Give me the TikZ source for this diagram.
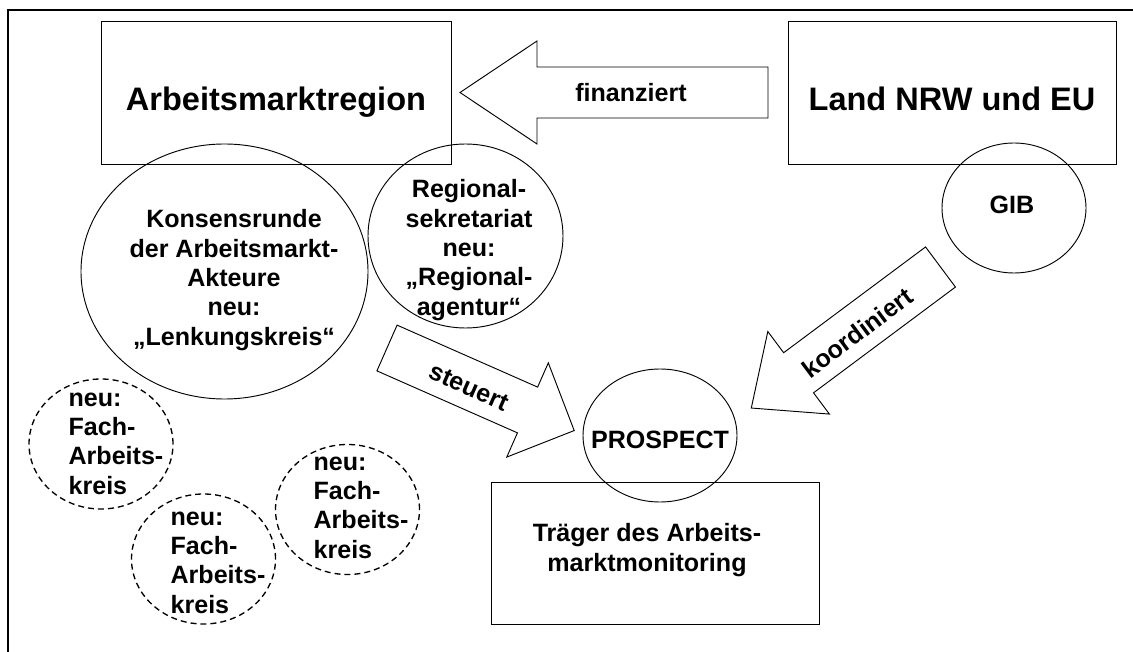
\documentclass[tikz,border=0pt]{standalone}
\usepackage{fontspec}
\setmainfont{Liberation Sans}
\usetikzlibrary{shapes.geometric}

\begin{document}
\begin{tikzpicture}[
    x=0.75pt, y=-0.75pt,
    frameline/.style={
        line width=1.5pt,
    },
    box/.style={
        rectangle,
        draw,
        line width=0.7pt,
        inner sep=0pt,
    },
    bigtext/.style={
        font=\fontsize{24.4}{29}\selectfont\bfseries,
        text height=27pt,
        text depth=0pt,
    },
    txt/.style={
        font=\fontsize{18.8}{22}\selectfont\bfseries,
        align=center,
        inner sep=0pt,
    },
    oval/.style={
        ellipse,
        draw,
        line width=0.7pt,
        inner sep=0pt,
    },
    fach/.style={
        oval,
        dash pattern=on 4.5pt off 3pt,
        line width=1pt,
        minimum width=108pt,
        minimum height=97.5pt,
    },
    blockarrow/.style={
        draw,
        line width=0.7pt,
        line join=miter,
    }
]
    \useasboundingbox (0,0) rectangle (1133,652);

    % Frame
    \draw[frameline] (8,652) -- (8,10) -- (1133,10);

    % Boxes
    \node[box, bigtext, minimum width=262.5pt, minimum height=107.25pt] (region) at (276,92.5) {Arbeitsmarktregion};
    \node[box, bigtext, minimum width=246pt, minimum height=107.25pt] (land) at (952,92.5) {Land NRW und EU};
    \node[box, minimum width=246pt, minimum height=106.5pt] (traeger) at (655,553) {};
    \node[txt] (traegertext) at (647,550) {Tr\"ager des Arbeits-\\marktmonitoring};

    % Ovals
    \node[oval, minimum width=215.25pt, minimum height=191.25pt] (konsens) at (224.5,271.5) {};
    \node[txt] (konsenstext) at (234,280) {Konsensrunde\\der Arbeitsmarkt-\\Akteure\\neu:\\„Lenkungskreis“};
    \node[oval, minimum width=146.25pt, minimum height=138pt] (regional) at (465.5,236) {};
    \node[txt] (regionaltext) at (469,250) {Regional-\\sekretariat\\neu:\\„Regional-\\agentur“};
    \node[oval, minimum width=108pt, minimum height=97.5pt] (gib) at (1014,208) {};
    \node[txt] (gibtext) at (1012,205) {GIB};
    \node[oval, minimum width=115.5pt, minimum height=99.75pt] (prospect) at (660,435.5) {};
    \node[txt] (prospecttext) at (660,440) {PROSPECT};

    % Fach-Arbeitskreise
    \node[fach] (fach1) at (101,444) {};
    \node[txt, align=left] (fachtext1) at (116,443.5) {neu:\\Fach-\\Arbeits-\\kreis};
    \node[fach] (fach2) at (203.5,559) {};
    \node[txt, align=left] (fachtext2) at (218,562.5) {neu:\\Fach-\\Arbeits-\\kreis};
    \node[fach] (fach3) at (347.5,509.5) {};
    \node[txt, align=left] (fachtext3) at (361,507.5) {neu:\\Fach-\\Arbeits-\\kreis};

    % Block arrows
    \begin{scope}[shift={(768,92.5)}, rotate=180]
        \draw[blockarrow] (0,-25.5) -- (231,-25.5) -- (231,-51.5) -- (308,0) -- (231,51.5) -- (231,25.5) -- (0,25.5) -- cycle;
        \node[txt] (finanziert) at (137,0) {finanziert};
    \end{scope}
    \begin{scope}[shift={(387,348)}, rotate=-23.8]
        \draw[blockarrow] (0,-25) -- (153.6,-25) -- (153.6,-51.5) -- (204.6,0) -- (153.6,51.5) -- (153.6,25) -- (0,25) -- cycle;
        \node[txt, rotate=-23.8] (steuert) at (91,3) {steuert};
    \end{scope}
    \begin{scope}[shift={(940.5,267)}, rotate=216.7]
        \draw[blockarrow] (0,-25) -- (177,-25) -- (177,-51.5) -- (236,0) -- (177,51.5) -- (177,25) -- (0,25) -- cycle;
        \node[txt, rotate=36.7] (koordiniert) at (106,-3) {koordiniert};
    \end{scope}
\end{tikzpicture}
\end{document}
